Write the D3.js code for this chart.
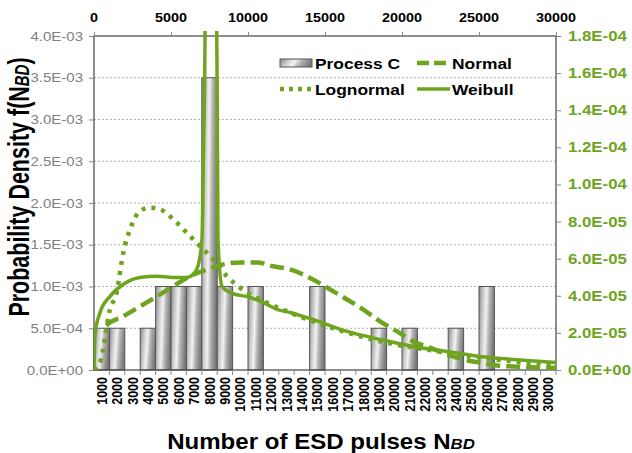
<!DOCTYPE html>
<html>
<head>
<meta charset="utf-8">
<script src="https://cdn.jsdelivr.net/npm/d3@7/dist/d3.min.js"></script>
<style>
    body { margin: 0; background: #fff; }
    text { font-family: "Liberation Sans", Arial, sans-serif; }
</style>
</head>
<body>
<svg id="chart" width="632" height="453"></svg>
<script>
// categories of the histogram (bottom axis)
var categories = ["1000", "2000", "3000", "4000", "5000", "6000", "7000", "8000", "9000", "10000",
    "11000", "12000", "13000", "14000", "15000", "16000", "17000", "18000", "19000", "20000",
    "21000", "22000", "23000", "24000", "25000", "26000", "27000", "28000", "29000", "30000"];

// Process C histogram values (left axis)
var processC = [5e-4, 5e-4, 0, 5e-4, 1e-3, 1e-3, 1e-3, 3.5e-3, 1e-3, 0,
    1e-3, 0, 0, 0, 1e-3, 0, 0, 0, 5e-4, 0,
    5e-4, 0, 0, 5e-4, 0, 1e-3, 0, 0, 0, 0];

// fitted curves on the secondary axes: [N, density]
var normalFit = [[800, 2.4e-5], [1040, 2.56e-5], [1880, 2.89e-5], [2990, 3.43e-5], [4090, 3.97e-5],
    [5130, 4.51e-5], [6230, 5.05e-5], [7340, 5.42e-5], [8380, 5.69e-5], [9480, 5.8e-5],
    [10590, 5.8e-5], [11620, 5.59e-5], [12730, 5.42e-5], [14220, 4.88e-5], [15330, 4.34e-5],
    [16430, 3.8e-5], [17470, 3.27e-5], [18570, 2.62e-5], [19680, 2.08e-5], [20720, 1.54e-5],
    [21820, 1.21e-5], [22920, 8.4e-6], [23960, 5.7e-6], [25070, 4.0e-6], [26170, 2.4e-6],
    [27210, 1.9e-6], [29420, 1.3e-6], [30000, 1.2e-6]];

var lognormalFit = [[0, 0], [390, 3.9e-6], [1040, 3.27e-5], [1470, 4.17e-5], [1900, 6.33e-5],
    [2340, 7.58e-5], [2990, 8.57e-5], [3640, 8.75e-5], [4290, 8.66e-5], [5150, 8.12e-5],
    [6020, 7.4e-5], [6880, 6.68e-5], [7750, 5.96e-5], [8620, 5.06e-5], [9480, 4.44e-5],
    [10350, 3.98e-5], [11220, 3.63e-5], [12730, 3.09e-5], [14220, 2.62e-5], [16430, 2.02e-5],
    [18570, 1.54e-5], [20720, 1.21e-5], [22920, 9.4e-6], [25070, 6.7e-6], [27210, 4.6e-6],
    [30000, 3.0e-6]];

var weibullFit = [[0, 0], [65, 1.92e-5], [390, 3.1e-5], [1040, 3.97e-5], [1880, 4.61e-5],
    [2990, 4.99e-5], [4090, 5.05e-5], [5130, 4.99e-5], [6040, 4.99e-5], [6430, 5.15e-5],
    [6750, 5.59e-5], [7010, 7.04e-5], [7110, 1.19e-4], [7210, 1.8e-4], [7300, 3.5e-4],
    [7550, 6e-4], [7800, 3.5e-4], [7950, 2.0e-4], [8000, 1.5e-4], [8050, 7.04e-5],
    [8310, 4.51e-5], [8830, 4.18e-5], [10130, 3.91e-5], [10970, 3.64e-5], [11880, 3.27e-5],
    [12730, 3.1e-5], [14220, 2.72e-5], [16430, 2.08e-5], [18570, 1.65e-5], [20720, 1.27e-5],
    [22920, 1.0e-5], [25070, 7.3e-6], [27210, 5.7e-6], [30000, 4.0e-6]];

var leftTicks = [0, 5e-4, 1e-3, 1.5e-3, 2e-3, 2.5e-3, 3e-3, 3.5e-3, 4e-3];
var rightTicks = [0, 2e-5, 4e-5, 6e-5, 8e-5, 1e-4, 1.2e-4, 1.4e-4, 1.6e-4, 1.8e-4];
var topTicks = [0, 5000, 10000, 15000, 20000, 25000, 30000];

var legendNames = ["Process C", "Normal", "Lognormal", "Weibull"];

// layout
var margin = { left: 94, right: 76, top: 36, bottom: 83 };
var width = 632 - margin.left - margin.right;
var height = 453 - margin.top - margin.bottom;
var green = "#6ea41e";
var SX = 1.2; // the reference text is stretched horizontally

var svg = d3.select("#chart");
var defs = svg.append("defs");

var grad = defs.append("linearGradient")
    .attr("id", "barGrad")
    .attr("x1", 0).attr("y1", 0).attr("x2", 1).attr("y2", 0.18);
[[0, "#8a8a8a"], [0.3, "#cfcfcf"], [0.5, "#f2f2f2"], [0.7, "#b4b4b4"], [1, "#7c7c7c"]].forEach(s => {
    grad.append("stop").attr("offset", s[0]).attr("stop-color", s[1]);
});

defs.append("clipPath").attr("id", "plotClip")
    .append("rect")
    .attr("x", margin.left).attr("y", margin.top - 5)
    .attr("width", width).attr("height", height + 5);

// scales
var xBand = d3.scaleBand().domain(categories).range([margin.left, margin.left + width]).padding(0);
var xLin = d3.scaleLinear().domain([0, 30000]).range([margin.left, margin.left + width]);
var yLeft = d3.scaleLinear().domain([0, 4e-3]).range([margin.top + height, margin.top]);
var yRight = d3.scaleLinear().domain([0, 1.8e-4]).range([margin.top + height, margin.top]);

function sci(v) {
    if (v === 0) return "0.0E+00";
    var e = Math.floor(Math.log10(v) + 1e-9);
    var m = v / Math.pow(10, e);
    return m.toFixed(1) + "E" + (e < 0 ? "-" : "+") + String(Math.abs(e)).padStart(2, "0");
}

// gridlines
svg.append("g")
    .selectAll("line")
    .data(leftTicks.slice(1, -1)).enter()
    .append("line")
    .attr("x1", margin.left).attr("x2", margin.left + width)
    .attr("y1", d => yLeft(d)).attr("y2", d => yLeft(d))
    .attr("stroke", "#b0b0b0")
    .attr("stroke-dasharray", "2,2");

// bars
var barData = categories.map((c, i) => ({ cat: c, v: processC[i] })).filter(d => d.v > 0);
svg.append("g")
    .selectAll("rect")
    .data(barData).enter()
    .append("rect")
    .attr("x", d => xBand(d.cat))
    .attr("y", d => yLeft(d.v))
    .attr("width", xBand.bandwidth())
    .attr("height", d => yLeft(0) - yLeft(d.v))
    .attr("fill", "url(#barGrad)")
    .attr("stroke", "#555")
    .attr("stroke-width", 1);

// plot border
svg.append("rect")
    .attr("x", margin.left).attr("y", margin.top)
    .attr("width", width).attr("height", height)
    .attr("fill", "none")
    .attr("stroke", "#444")
    .attr("stroke-width", 1.2);

// left axis
var gLeft = svg.append("g")
    .attr("transform", "translate(" + margin.left + ",0)")
    .call(d3.axisLeft(yLeft).tickValues(leftTicks).tickSize(5).tickFormat(""));
gLeft.select(".domain").remove();
gLeft.selectAll(".tick line").attr("stroke", "#888");
svg.append("g").selectAll("text")
    .data(leftTicks).enter()
    .append("text")
    .attr("transform", d => "translate(" + (margin.left - 11) + "," + (yLeft(d) + 4.5) + ") scale(" + SX + ",1)")
    .attr("text-anchor", "end")
    .attr("font-size", 12.5)
    .attr("fill", "#808080")
    .text(d => sci(d));

// right axis
var gRight = svg.append("g")
    .attr("transform", "translate(" + (margin.left + width) + ",0)")
    .call(d3.axisRight(yRight).tickValues(rightTicks).tickSize(5).tickFormat(""));
gRight.select(".domain").remove();
gRight.selectAll(".tick line").attr("stroke", "#888");
svg.append("g").selectAll("text")
    .data(rightTicks).enter()
    .append("text")
    .attr("transform", d => "translate(" + (margin.left + width + 12) + "," + (yRight(d) + 5) + ") scale(" + SX + ",1)")
    .attr("font-size", 14)
    .attr("font-weight", "bold")
    .attr("fill", green)
    .text(d => sci(d));

// top axis
var gTop = svg.append("g")
    .attr("transform", "translate(0," + margin.top + ")")
    .call(d3.axisTop(xLin).tickValues(topTicks).tickSize(4).tickFormat(""));
gTop.select(".domain").remove();
gTop.selectAll(".tick line").attr("stroke", "#888");
svg.append("g").selectAll("text")
    .data(topTicks).enter()
    .append("text")
    .attr("transform", d => "translate(" + xLin(d) + "," + (margin.top - 14) + ") scale(" + SX + ",1)")
    .attr("text-anchor", "middle")
    .attr("font-size", 12)
    .attr("font-weight", "bold")
    .attr("fill", "#000")
    .text(d => d);

// bottom axis: ticks at category boundaries
svg.append("g").selectAll("line")
    .data(categories).enter()
    .append("line")
    .attr("x1", d => xBand(d) + xBand.bandwidth()).attr("x2", d => xBand(d) + xBand.bandwidth())
    .attr("y1", margin.top + height).attr("y2", margin.top + height + 5)
    .attr("stroke", "#888");
svg.append("g").selectAll("text")
    .data(categories).enter()
    .append("text")
    .attr("transform", d => "translate(" + (xBand(d) + xBand.bandwidth() / 2 + 5) + "," + (margin.top + height + 7) + ") scale(" + SX + ",1) rotate(-90)")
    .attr("text-anchor", "end")
    .attr("font-size", 12.5)
    .attr("font-weight", "bold")
    .attr("fill", "#000")
    .text(d => d);

// fitted curves
var line = d3.line()
    .x(d => xLin(d[0]))
    .y(d => yRight(d[1]))
    .curve(d3.curveMonotoneX);

var curves = svg.append("g").attr("clip-path", "url(#plotClip)");
curves.append("path")
    .datum(normalFit)
    .attr("d", line)
    .attr("fill", "none")
    .attr("stroke", green)
    .attr("stroke-width", 4.5)
    .attr("stroke-dasharray", "14,6");
curves.append("path")
    .datum(lognormalFit)
    .attr("d", line)
    .attr("fill", "none")
    .attr("stroke", green)
    .attr("stroke-width", 4.5)
    .attr("stroke-dasharray", "4,6");
curves.append("path")
    .datum(weibullFit)
    .attr("d", line)
    .attr("fill", "none")
    .attr("stroke", green)
    .attr("stroke-width", 3.5);

// legend
var legendPos = [[280, 63], [417, 63], [280, 89], [417, 89]];
var legend = svg.append("g");
legendNames.forEach((name, i) => {
    var p = legendPos[i];
    if (i === 0) {
        legend.append("rect")
            .attr("x", p[0]).attr("y", p[1] - 4)
            .attr("width", 32).attr("height", 8)
            .attr("fill", "url(#barGrad)")
            .attr("stroke", "#555");
    } else {
        legend.append("line")
            .attr("x1", p[0]).attr("x2", p[0] + 33)
            .attr("y1", p[1]).attr("y2", p[1])
            .attr("stroke", green)
            .attr("stroke-width", i === 3 ? 3.5 : 4.5)
            .attr("stroke-dasharray", i === 1 ? "12,5" : i === 2 ? "4,5" : null);
    }
    legend.append("text")
        .attr("transform", "translate(" + (p[0] + 35) + "," + (p[1] + 6) + ") scale(" + SX + ",1)")
        .attr("font-size", 14.5)
        .attr("font-weight", "bold")
        .attr("fill", "#000")
        .text(name);
});

// axis titles
var xTitle = svg.append("text")
    .attr("transform", "translate(" + 321 + "," + 449 + ") scale(1.12,1)")
    .attr("text-anchor", "middle")
    .attr("font-size", 21.5)
    .attr("font-weight", "bold")
    .attr("fill", "#000");
xTitle.append("tspan").text("Number of ESD pulses N");
xTitle.append("tspan").attr("font-size", 15).attr("font-style", "italic").text("BD");

var yTitle = svg.append("text")
    .attr("transform", "translate(" + 29 + "," + 187 + ") scale(1.4,1) rotate(-90)")
    .attr("text-anchor", "middle")
    .attr("font-size", 21.5)
    .attr("font-weight", "bold")
    .attr("fill", "#000");
yTitle.append("tspan").text("Probability Density f(N");
yTitle.append("tspan").attr("font-size", 15).attr("font-style", "italic").text("BD");
yTitle.append("tspan").text(")");
</script>
</body>
</html>
